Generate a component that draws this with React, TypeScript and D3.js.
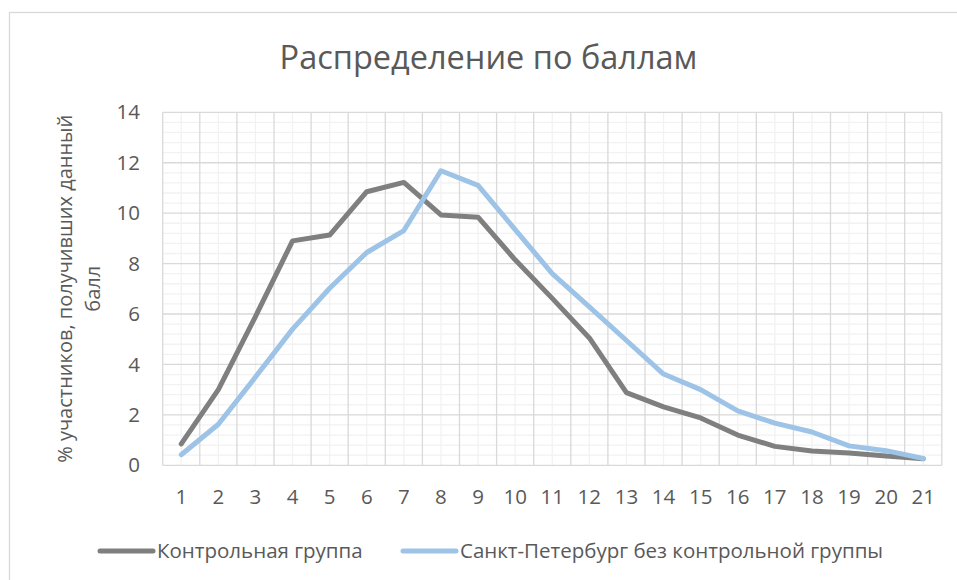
import React, { useEffect, useRef } from 'react';
import * as d3 from 'd3';

// баллы 1..21
const scores = ['1', '2', '3', '4', '5', '6', '7', '8', '9', '10', '11', '12', '13', '14', '15', '16', '17', '18', '19', '20', '21'];
const controlGroup = [0.85, 3.0, 5.9, 8.9, 9.13, 10.85, 11.22, 9.93, 9.84, 8.15, 6.62, 5.05, 2.88, 2.32, 1.88, 1.2, 0.75, 0.57, 0.49, 0.37, 0.26];
const spbGroup = [0.42, 1.63, 3.5, 5.4, 7.02, 8.44, 9.31, 11.68, 11.1, 9.35, 7.6, 6.28, 4.95, 3.62, 3.0, 2.16, 1.67, 1.32, 0.77, 0.58, 0.27];
const yTicks = [0, 2, 4, 6, 8, 10, 12, 14];
const seriesNames = ['Контрольная группа', 'Санкт-Петербург без контрольной группы'];
const seriesColors = ['#7f7f7f', '#9dc3e6'];

const FONT = '"Open Sans", sans-serif';
const TEXT = '#595959';

const App = () => {
    const ref = useRef<SVGSVGElement>(null);

    useEffect(() => {
        drawChart();
    }, []);

    const drawChart = () => {
        const width = 957, height = 580;
        const plot = { left: 162.7, right: 941.8, top: 112.3, bottom: 465.3 };

        const svg = d3.select(ref.current)
            .attr('width', width)
            .attr('height', height);
        svg.selectAll('*').remove();

        svg.append('rect')
            .attr('width', width).attr('height', height)
            .attr('fill', '#fff');

        // рамка диаграммы (уходит за край картинки)
        svg.append('rect')
            .attr('x', 9.5).attr('y', 12.5)
            .attr('width', width + 20).attr('height', height + 20)
            .attr('fill', 'none')
            .attr('stroke', '#d9d9d9')
            .attr('stroke-width', 1.3);

        const x = d3.scaleBand().domain(scores).range([plot.left, plot.right]).padding(0);
        const y = d3.scaleLinear().domain([0, 14]).range([plot.bottom, plot.top]);
        const cx = (d: string) => (x(d) as number) + x.bandwidth() / 2;

        const grid = svg.append('g');
        // вспомогательная сетка
        const minorY = d3.range(0, 14.001, 0.4).filter(v => !yTicks.some(t => Math.abs(t - v) < 1e-6));
        grid.selectAll('.minor-h')
            .data(minorY)
            .enter().append('line')
            .attr('x1', plot.left).attr('x2', plot.right)
            .attr('y1', d => y(d)).attr('y2', d => y(d))
            .attr('stroke', '#f2f2f2').attr('stroke-width', 1.3);
        grid.selectAll('.minor-v')
            .data(scores)
            .enter().append('line')
            .attr('x1', d => cx(d)).attr('x2', d => cx(d))
            .attr('y1', plot.top).attr('y2', plot.bottom)
            .attr('stroke', '#f2f2f2').attr('stroke-width', 1.3);

        // основная сетка
        grid.selectAll('.major-h')
            .data(yTicks)
            .enter().append('line')
            .attr('x1', plot.left).attr('x2', plot.right)
            .attr('y1', d => y(d)).attr('y2', d => y(d))
            .attr('stroke', '#d9d9d9').attr('stroke-width', 1.3);
        const bounds = scores.map(d => x(d) as number).concat([plot.right]);
        grid.selectAll('.major-v')
            .data(bounds)
            .enter().append('line')
            .attr('x1', d => d).attr('x2', d => d)
            .attr('y1', plot.top).attr('y2', plot.bottom)
            .attr('stroke', '#d9d9d9').attr('stroke-width', 1.3);

        // подписи осей
        svg.selectAll('.ytick')
            .data(yTicks)
            .enter().append('text')
            .attr('x', 140)
            .attr('y', d => y(d))
            .attr('dy', '0.35em')
            .attr('text-anchor', 'end')
            .style('font-family', FONT).style('font-size', '20.5px').style('fill', TEXT)
            .text(d => d);

        svg.selectAll('.xtick')
            .data(scores)
            .enter().append('text')
            .attr('x', d => cx(d))
            .attr('y', 497)
            .attr('dy', '0.35em')
            .attr('text-anchor', 'middle')
            .style('font-family', FONT).style('font-size', '20.5px').style('fill', TEXT)
            .text(d => d);

        // линии рядов
        const line = d3.line<number>()
            .x((_, i) => cx(scores[i]))
            .y(d => y(d));

        [controlGroup, spbGroup].forEach((s, i) => {
            svg.append('path')
                .datum(s)
                .attr('d', line)
                .attr('fill', 'none')
                .attr('stroke', seriesColors[i])
                .attr('stroke-width', 5)
                .attr('stroke-linejoin', 'round')
                .attr('stroke-linecap', 'round');
        });

        // заголовок
        svg.append('text')
            .attr('x', 488.5).attr('y', 69)
            .attr('text-anchor', 'middle')
            .style('font-family', FONT).style('font-size', '32.5px').style('fill', TEXT)
            .text('Распределение по баллам');

        // подпись оси Y
        const yTitle = svg.append('text')
            .attr('transform', 'translate(0,' + ((plot.top + plot.bottom) / 2) + ') rotate(-90)')
            .attr('text-anchor', 'middle')
            .style('font-family', FONT).style('font-size', '20px').style('fill', TEXT);
        yTitle.append('tspan').attr('x', 0).attr('y', 72).text('% участников, получивших данный');
        yTitle.append('tspan').attr('x', 0).attr('y', 100).text('балл');

        // легенда
        const legendX = [100, 403];
        const lg = svg.selectAll('.legend')
            .data(seriesNames)
            .enter().append('g')
            .attr('transform', (_, i) => 'translate(' + legendX[i] + ',551)');
        lg.append('line')
            .attr('x1', 0).attr('x2', 53)
            .attr('stroke', (_, i) => seriesColors[i])
            .attr('stroke-width', 5)
            .attr('stroke-linecap', 'round');
        lg.append('text')
            .attr('x', 57)
            .attr('dy', '0.35em')
            .style('font-family', FONT).style('font-size', '20.5px').style('fill', TEXT)
            .text(d => d);
    };

    return (
        <div style={{ position: 'absolute', left: 0, top: 0 }}>
            <svg ref={ref} style={{ display: 'block' }}></svg>
        </div>
    );
};

export default App;
